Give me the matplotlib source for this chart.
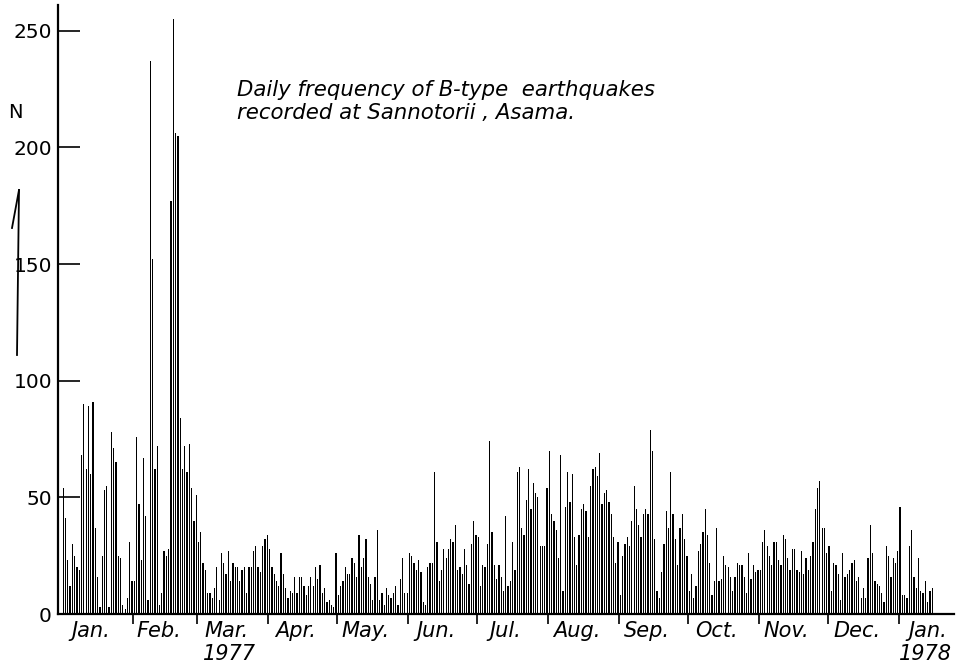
import numpy as np
from matplotlib import pyplot as plt

# daily counts of B-type earthquakes (one list per month)
jan_77 = [54, 41, 23, 12, 30, 25, 20, 19, 68, 90, 62, 89, 60, 91, 37, 16, 3, 25, 53, 55,
          3, 78, 71, 65, 25, 24, 4, 2, 7, 31, 14]
feb_77 = [14, 76, 47, 23, 67, 42, 6, 237, 152, 62, 72, 4, 9, 27, 25, 28, 177, 255, 206, 205,
          84, 62, 72, 61, 73, 54, 40, 51]
mar_77 = [31, 35, 22, 19, 9, 9, 7, 11, 20, 6, 26, 22, 17, 27, 14, 22, 20, 20, 14, 19,
          20, 9, 20, 20, 27, 29, 20, 18, 29, 32, 34]
apr_77 = [28, 20, 17, 14, 12, 26, 17, 11, 7, 10, 9, 16, 9, 16, 16, 12, 8, 12, 16, 12,
          20, 15, 21, 9, 11, 5, 6, 4, 3, 26]
may_77 = [8, 12, 14, 20, 17, 17, 24, 22, 16, 34, 20, 24, 32, 16, 13, 6, 16, 36, 6, 9,
          4, 11, 8, 7, 9, 12, 4, 15, 24, 9, 9]
jun_77 = [26, 25, 22, 19, 23, 18, 5, 4, 20, 22, 22, 61, 31, 14, 19, 28, 24, 28, 32, 31,
          38, 19, 20, 17, 28, 21, 13, 30, 40, 34]
jul_77 = [33, 12, 21, 20, 30, 74, 35, 21, 15, 21, 16, 10, 42, 12, 14, 31, 19, 61, 63, 37,
          34, 49, 62, 45, 56, 52, 50, 29, 29, 29, 54]
aug_77 = [70, 43, 40, 36, 24, 68, 10, 46, 61, 48, 60, 33, 21, 34, 45, 47, 44, 33, 55, 62,
          63, 59, 69, 47, 52, 53, 48, 43, 33, 22, 31]
sep_77 = [8, 25, 30, 33, 29, 40, 55, 45, 38, 33, 43, 45, 43, 79, 70, 32, 10, 7, 18, 30,
          44, 37, 61, 43, 32, 21, 37, 43, 32, 25]
oct_77 = [10, 17, 7, 12, 27, 30, 35, 45, 34, 22, 8, 14, 37, 14, 15, 25, 21, 20, 16, 10,
          16, 22, 21, 21, 16, 9, 26, 15, 21, 18, 19]
nov_77 = [19, 31, 36, 29, 25, 21, 31, 31, 23, 21, 34, 32, 24, 19, 28, 28, 19, 18, 27, 17,
          24, 19, 25, 31, 45, 54, 57, 37, 37, 26]
dec_77 = [29, 10, 22, 21, 17, 6, 26, 16, 17, 19, 22, 23, 14, 16, 7, 11, 7, 24, 38, 26,
          14, 13, 12, 9, 5, 29, 25, 16, 24, 22, 27]
jan_78 = [46, 8, 8, 7, 29, 36, 16, 11, 24, 10, 9, 14, 5, 10, 11]

months = [jan_77, feb_77, mar_77, apr_77, may_77, jun_77, jul_77,
          aug_77, sep_77, oct_77, nov_77, dec_77, jan_78]
month_labels = ["Jan.", "Feb.", "Mar.", "Apr.", "May.", "Jun.", "Jul.",
                "Aug.", "Sep.", "Oct.", "Nov.", "Dec.", "Jan."]
y_ticks = [0, 50, 100, 150, 200, 250]

counts = np.concatenate([np.array(m) for m in months])
days = np.arange(len(counts))

month_len = [len(m) for m in months]
month_len[-1] = 31  # last month only partly observed
month_start = np.concatenate([[0], np.cumsum(month_len)[:-1]])
label_pos = month_start + np.array(month_len) / 2 - 3

fig = plt.figure(figsize=(9.63, 6.68), dpi=100)
ax = fig.add_axes([57.5 / 963, 54 / 668, 896.5 / 963, 609 / 668])

ax.bar(days + 0.5, counts, width=0.55, color="black", linewidth=0)

ax.set_xlim(-2, 389)
ax.set_ylim(0, 261)

for s in ["top", "right"]:
    ax.spines[s].set_visible(False)
ax.spines["left"].set_linewidth(1.6)
ax.spines["bottom"].set_linewidth(1.6)

ax.set_yticks(y_ticks)
ax.set_yticklabels([str(v) for v in y_ticks], fontsize=14.5)
ax.tick_params(axis="y", direction="in", length=16, width=1.2, pad=4)

ax.set_xticks(month_start[1:])
ax.set_xticklabels([])
ax.tick_params(axis="x", which="major", direction="out", length=7, width=1.2)
ax.set_xticks(label_pos, minor=True)
ax.set_xticklabels(month_labels, minor=True, fontsize=15, style="italic")
ax.tick_params(axis="x", which="minor", length=0, pad=5)

# year labels under the axis
ax.text(72.8, -0.066, "1977", transform=ax.get_xaxis_transform(),
        ha="center", va="center", fontsize=15, style="italic")
ax.text(376.4, -0.066, "1978", transform=ax.get_xaxis_transform(),
        ha="center", va="center", fontsize=15, style="italic")

fig.text(237 / 963, 1 - 90 / 668, "Daily frequency of B-type  earthquakes",
         ha="left", va="center", fontsize=15.3, style="italic")
fig.text(237 / 963, 1 - 113 / 668, "recorded at Sannotorii , Asama.",
         ha="left", va="center", fontsize=15.3, style="italic")

# N with an upward arrow on the left
fig.text(15 / 963, 1 - 112 / 668, "N", ha="center", va="center", fontsize=14)
fig.add_artist(plt.Line2D([17 / 963, 19 / 963], [1 - 355 / 668, 1 - 190 / 668],
                          color="black", linewidth=1.3))
fig.add_artist(plt.Line2D([19 / 963, 12 / 963], [1 - 190 / 668, 1 - 228 / 668],
                          color="black", linewidth=1.3))

fig.savefig("out.png", dpi=100)
